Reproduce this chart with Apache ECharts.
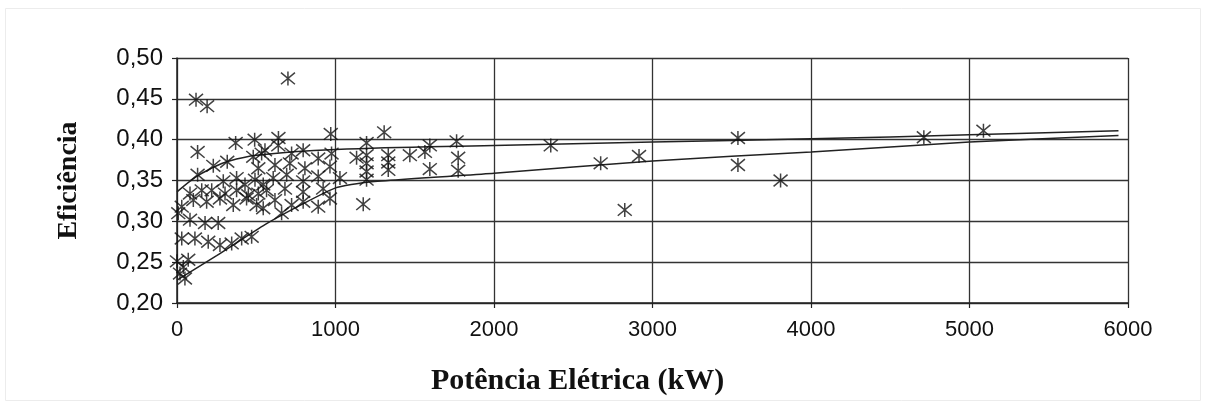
<!DOCTYPE html>
<html>
<head>
<meta charset="utf-8">
<script src="https://cdn.jsdelivr.net/npm/echarts@6/dist/echarts.min.js"></script>
<style>
  html, body { margin: 0; padding: 0; background: #fff; }
  #grafico { width: 1206px; height: 405px; }
</style>
</head>
<body>
<div id="grafico"></div>
<script>
// pontos medidos (potência em kW, eficiência)
var potenciaKW = [
  700, 120, 190, 370, 490, 640, 970, 130, 130,
  229, 317, 481, 534, 513, 555, 639, 723, 796, 891, 975, 618, 712, 807, 965,
  292, 376, 429, 492, 544, 607, 692, 796, 891, 1028,
  82, 156, 219, 303, 376, 450, 513, 565, 681, 796, 922,
  30, 103, 187, 271, 355, 439, 502, 544, 618, 660, 723, 796, 891, 965,
  8, 82, 177, 260,
  30, 113, 197, 271, 345, 408, 471,
  0, 40, 71, 50, 19,
  1133, 1175, 1196, 1196, 1196, 1196, 1196, 1307, 1333, 1333, 1333, 1469, 1564, 1595, 1595, 1764, 1774, 1774,
  2358, 2673, 2825, 2915, 3539, 3539, 3808, 4712, 5088
];
var eficiencia = [
  0.475, 0.449, 0.441, 0.396, 0.400, 0.402, 0.407, 0.385, 0.357,
  0.368, 0.373, 0.379, 0.383, 0.365, 0.387, 0.393, 0.383, 0.387, 0.377, 0.383, 0.369, 0.371, 0.365, 0.367,
  0.349, 0.353, 0.345, 0.351, 0.345, 0.353, 0.357, 0.349, 0.355, 0.353,
  0.334, 0.338, 0.338, 0.334, 0.338, 0.332, 0.334, 0.338, 0.340, 0.336, 0.340,
  0.318, 0.326, 0.324, 0.328, 0.320, 0.328, 0.320, 0.316, 0.326, 0.310, 0.320, 0.324, 0.318, 0.328,
  0.310, 0.302, 0.298, 0.298,
  0.279, 0.279, 0.275, 0.271, 0.273, 0.279, 0.281,
  0.251, 0.244, 0.253, 0.230, 0.236,
  0.378, 0.321, 0.396, 0.381, 0.371, 0.361, 0.351, 0.409, 0.381, 0.372, 0.363, 0.381, 0.385, 0.393, 0.364, 0.398, 0.378, 0.362,
  0.393, 0.371, 0.314, 0.380, 0.402, 0.369, 0.350, 0.403, 0.411
];

// curvas envolventes
var curvaSupX = [0, 124, 229, 313, 502, 1000, 2000, 3000, 4000, 5000, 5940];
var curvaSupY = [0.336, 0.355, 0.366, 0.373, 0.381, 0.388, 0.393, 0.397, 0.401, 0.406, 0.411];
var curvaInfX = [0, 250, 555, 800, 1000, 1200, 2000, 3000, 4000, 5000, 5940];
var curvaInfY = [0.228, 0.258, 0.296, 0.322, 0.341, 0.348, 0.359, 0.374, 0.385, 0.397, 0.405];

var eixoX = { min: 0, max: 6000, intervalo: 1000 };
var eixoY = { min: 0.20, max: 0.50, intervalo: 0.05 };

function pares(xs, ys) {
  var out = [];
  for (var i = 0; i < xs.length; i++) out.push([xs[i], ys[i]]);
  return out;
}

var asterisco = 'path://M0,0L10,10M10,0L0,10M5,-1L5,11';

var chart = echarts.init(document.getElementById('grafico'));
var option = {
  animation: false,
  backgroundColor: '#fff',
  grid: { left: 177, right: 78, top: 58, bottom: 102 },
  graphic: [{
    type: 'rect',
    shape: { x: 5.5, y: 8.5, width: 1195, height: 392 },
    style: { fill: 'none', stroke: '#ececec', lineWidth: 1 },
    silent: true
  }],
  xAxis: {
    type: 'value',
    min: eixoX.min, max: eixoX.max, interval: eixoX.intervalo,
    name: 'Potência Elétrica (kW)',
    nameLocation: 'middle',
    nameGap: 63,
    nameTextStyle: {
      fontFamily: 'Liberation Serif', fontWeight: 'bold', fontSize: 30, color: '#111',
      padding: [0, 150, 0, 0]
    },
    axisLine: { show: true, lineStyle: { color: '#222', width: 1.5 } },
    axisTick: { show: true, length: 5, lineStyle: { color: '#222', width: 1.2 } },
    axisLabel: {
      margin: 16, fontFamily: 'Liberation Sans', fontSize: 22, color: '#111',
      formatter: function (v) { return String(v); }
    },
    splitLine: { show: true, lineStyle: { color: '#333', width: 1.3 } }
  },
  yAxis: {
    type: 'value',
    min: eixoY.min, max: eixoY.max, interval: eixoY.intervalo,
    name: 'Eficiência',
    nameLocation: 'middle',
    nameRotate: 90,
    nameGap: 94,
    nameTextStyle: { fontFamily: 'Liberation Serif', fontWeight: 'bold', fontSize: 28, color: '#111' },
    axisLine: { show: true, lineStyle: { color: '#222', width: 1.5 } },
    axisTick: { show: true, length: 5, lineStyle: { color: '#222', width: 1.2 } },
    axisLabel: {
      margin: 14, fontFamily: 'Liberation Sans', fontSize: 24, color: '#111',
      formatter: function (v) { return v.toFixed(2).replace('.', ','); }
    },
    splitLine: { show: true, lineStyle: { color: '#333', width: 1.3 } }
  },
  series: [
    {
      type: 'line',
      data: pares(curvaSupX, curvaSupY),
      smooth: 0.4,
      symbol: 'none',
      lineStyle: { color: '#222', width: 1.5 },
      z: 3
    },
    {
      type: 'line',
      data: pares(curvaInfX, curvaInfY),
      smooth: 0.15,
      symbol: 'none',
      lineStyle: { color: '#222', width: 1.5 },
      z: 3
    },
    {
      type: 'scatter',
      data: pares(potenciaKW, eficiencia),
      symbol: asterisco,
      symbolSize: 14,
      itemStyle: { color: 'rgba(0,0,0,0)', borderColor: '#111', borderWidth: 1.5 },
      z: 4
    }
  ]
};
chart.setOption(option);
</script>
</body>
</html>
